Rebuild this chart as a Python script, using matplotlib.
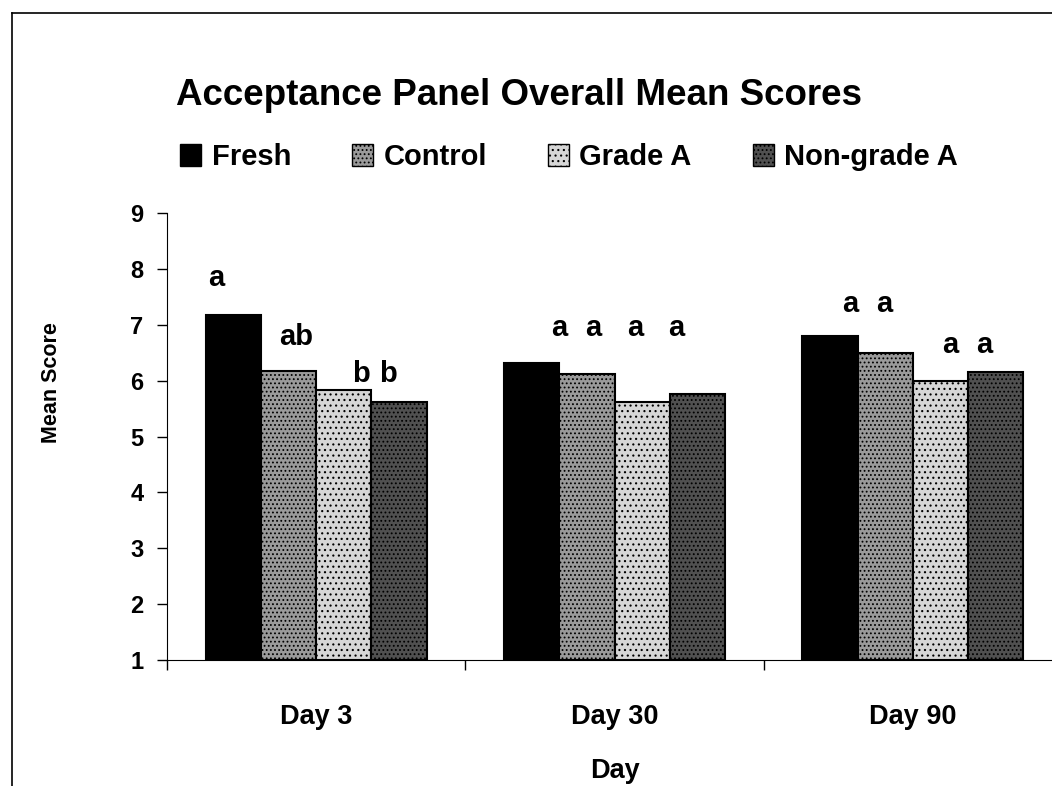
import matplotlib
matplotlib.use("Agg")
import matplotlib.pyplot as plt
import numpy as np
from matplotlib.lines import Line2D
from matplotlib.patches import Patch

plt.rcParams["font.family"] = ["Liberation Sans", "DejaVu Sans"]
plt.rcParams["font.weight"] = "bold"
plt.rcParams["hatch.linewidth"] = 0.8

days = ["Day 3", "Day 30", "Day 90"]
groups = ["Fresh", "Control", "Grade A", "Non-grade A"]
fresh = [7.18, 6.32, 6.79]
control = [6.18, 6.12, 6.49]
grade_a = [5.83, 5.62, 6.00]
non_grade_a = [5.62, 5.76, 6.15]
series = [fresh, control, grade_a, non_grade_a]

# significance letters above the bars
letters_x = [-0.336, -0.067, 0.151, 0.242, 0.815, 0.930, 1.070, 1.208, 1.789, 1.903, 2.124, 2.238]
letters_y = [7.84, 6.78, 6.12, 6.12, 6.94, 6.94, 6.94, 6.94, 7.37, 7.37, 6.64, 6.64]
letters = ["a", "ab", "b", "b", "a", "a", "a", "a", "a", "a", "a", "a"]

faces = ["black", "#9a9a9a", "#d6d6d6", "#505050"]
hatches = [None, "....", "...", "...."]

fig = plt.figure(figsize=(10.52, 7.86), dpi=100)
ax = fig.add_axes([167 / 1052, 126 / 786, 895 / 1052, 447 / 786])

x = np.arange(len(days))
w = 0.185
for i, vals in enumerate(series):
    ax.bar(x + (i - 1.5) * w, np.array(vals) - 1, w, bottom=1,
           color=faces[i], edgecolor="black", linewidth=1.5, hatch=hatches[i])

for lx, ly, t in zip(letters_x, letters_y, letters):
    ax.text(lx, ly, t, ha="center", va="center", fontsize=21, fontweight="bold")

ax.set_xlim(-0.5, 2.5)
ax.set_ylim(1, 9)
ax.set_yticks(range(1, 10))
ax.tick_params(axis="y", labelsize=17, length=7, width=1, pad=10)
ax.set_xticks([-0.5, 0.5, 1.5, 2.5])
ax.set_xticklabels([])
ax.tick_params(axis="x", which="major", length=7, width=1)
ax.set_xticks(x, minor=True)
ax.set_xticklabels(days, minor=True)
ax.tick_params(axis="x", which="minor", length=0, labelsize=19.5, pad=32)
ax.spines["top"].set_visible(False)
ax.spines["right"].set_visible(False)
ax.set_xlabel("Day", fontsize=19.5, fontweight="bold", labelpad=20)
ax.set_ylabel("Mean Score", fontsize=15.5, fontweight="bold")
ax.yaxis.set_label_coords(-0.117, 0.62)

fig.text(0.493, 0.879, "Acceptance Panel Overall Mean Scores", ha="center", va="center",
         fontsize=26.5, fontweight="bold")

handles = [Patch(facecolor=faces[i], edgecolor="black", hatch=hatches[i]) for i in range(4)]
fig.legend(handles, groups, loc="center", bbox_to_anchor=(0.541, 0.80), ncol=4, frameon=False,
           fontsize=21, handlelength=0.72, handleheight=0.75, handletextpad=0.35,
           columnspacing=2.1)

# page border (left and top)
fig.add_artist(Line2D([12 / 1052, 12 / 1052], [0, 1 - 13 / 786], color="black", linewidth=1.2))
fig.add_artist(Line2D([12 / 1052, 1], [1 - 13 / 786, 1 - 13 / 786], color="black", linewidth=1.2))

fig.savefig("out.png", dpi=100)
